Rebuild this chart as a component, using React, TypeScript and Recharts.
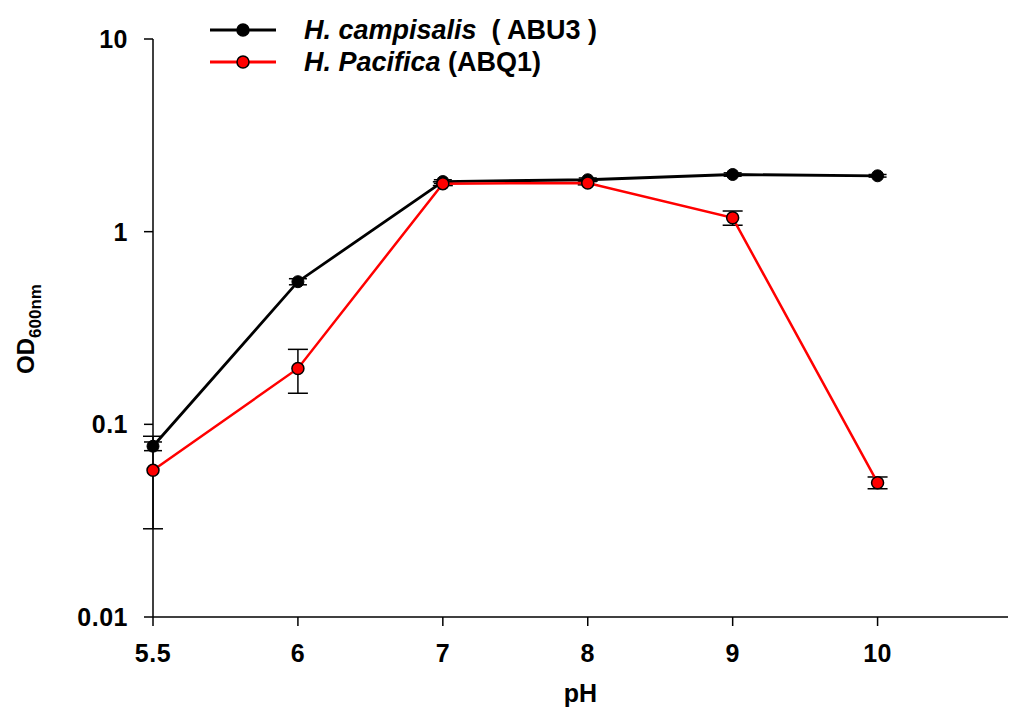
import { LineChart, Line, XAxis, YAxis, ErrorBar } from 'recharts'

const phLabels = ['5.5', '6', '7', '8', '9', '10']
const campisalis = [0.077, 0.55, 1.82, 1.86, 1.98, 1.95]
const campisalisErr = [0.004, 0.02, 0.04, 0.04, 0.04, 0.03]
const pacifica = [0.0577, 0.195, 1.775, 1.79, 1.18, 0.0498]
const pacificaErr = [0.029, 0.05, 0.04, 0.04, 0.1, 0.0035]
const yTicks = [0.01, 0.1, 1, 10]

const data = phLabels.map((label, i) => ({
  x: i,
  label,
  camp: campisalis[i],
  campErr: campisalisErr[i],
  pac: pacifica[i],
  pacErr: pacificaErr[i],
}))

const FONT = '"Liberation Sans", Arial, sans-serif'

// chart is pinned to the page's top-left corner so the pH label fits in 709px
function YLabel() {
  return (
    <text
      x={0}
      y={0}
      transform="translate(34, 329) rotate(-90)"
      textAnchor="middle"
      fontFamily={FONT}
      fontWeight="bold"
      fill="#000"
    >
      <tspan fontSize={24}>OD</tspan>
      <tspan fontSize={17} dy={7}>600nm</tspan>
    </text>
  )
}

function LegendRow({ color, fill, children, top }: any) {
  return (
    <div style={{ position: 'absolute', left: 210, top, height: 32, display: 'flex', alignItems: 'center', fontFamily: FONT, fontWeight: 'bold', fontSize: 27, lineHeight: '32px', whiteSpace: 'pre' }}>
      <svg width={66} height={16}>
        <line x1={0} y1={8} x2={66} y2={8} stroke={color} strokeWidth={3} />
        <circle cx={33} cy={8} r={6} fill={fill} stroke="#000" strokeWidth={1.5} />
      </svg>
      <span style={{ marginLeft: 28 }}>{children}</span>
    </div>
  )
}

export default function App() {
  return (
    <div style={{ position: 'absolute', left: 0, top: 0, width: 1011, height: 709, background: '#fff', overflow: 'hidden' }}>
      <LineChart width={1011} height={709} data={data} margin={{ top: 39, right: 3, left: 0, bottom: 0 }}>
        <XAxis
          type="number"
          dataKey="x"
          domain={[0, 5.9]}
          ticks={[0, 1, 2, 3, 4, 5]}
          tickFormatter={(v: number) => phLabels[v]}
          height={92}
          stroke="#000"
          strokeWidth={1.5}
          tickSize={9}
          tickMargin={18}
          tick={{ fill: '#000', fontSize: 25, fontWeight: 'bold', fontFamily: FONT, letterSpacing: 0.5 }}
          label={{ value: 'pH', position: 'insideBottom', offset: 7, fill: '#000', fontSize: 25, fontWeight: 'bold', fontFamily: FONT }}
        />
        <YAxis
          type="number"
          scale="log"
          domain={[0.01, 10]}
          ticks={yTicks}
          allowDataOverflow
          width={153}
          stroke="#000"
          strokeWidth={1.5}
          tickSize={9}
          tickMargin={16}
          tickFormatter={(v: number) => String(v)}
          tick={{ fill: '#000', fontSize: 25, fontWeight: 'bold', fontFamily: FONT, letterSpacing: 0.5 }}
          label={<YLabel />}
        />
        <Line
          dataKey="camp"
          stroke="#000"
          strokeWidth={2.8}
          dot={{ r: 6, fill: '#000', stroke: '#000', strokeWidth: 1 }}
          isAnimationActive={false}
        >
          <ErrorBar dataKey="campErr" direction="y" width={9} stroke="#000" strokeWidth={1.5} />
        </Line>
        <Line
          dataKey="pac"
          stroke="#ff0000"
          strokeWidth={2.5}
          dot={{ r: 6, fill: '#ff0000', stroke: '#000', strokeWidth: 1.5 }}
          isAnimationActive={false}
        >
          <ErrorBar dataKey="pacErr" direction="y" width={10} stroke="#000" strokeWidth={1.5} />
        </Line>
      </LineChart>
      <LegendRow color="#000" fill="#000" top={14}>
        <i>H. campisalis</i>{'  ( ABU3 )'}
      </LegendRow>
      <LegendRow color="#ff0000" fill="#ff0000" top={46}>
        <i>H. Pacifica</i>{' (ABQ1)'}
      </LegendRow>
    </div>
  )
}
